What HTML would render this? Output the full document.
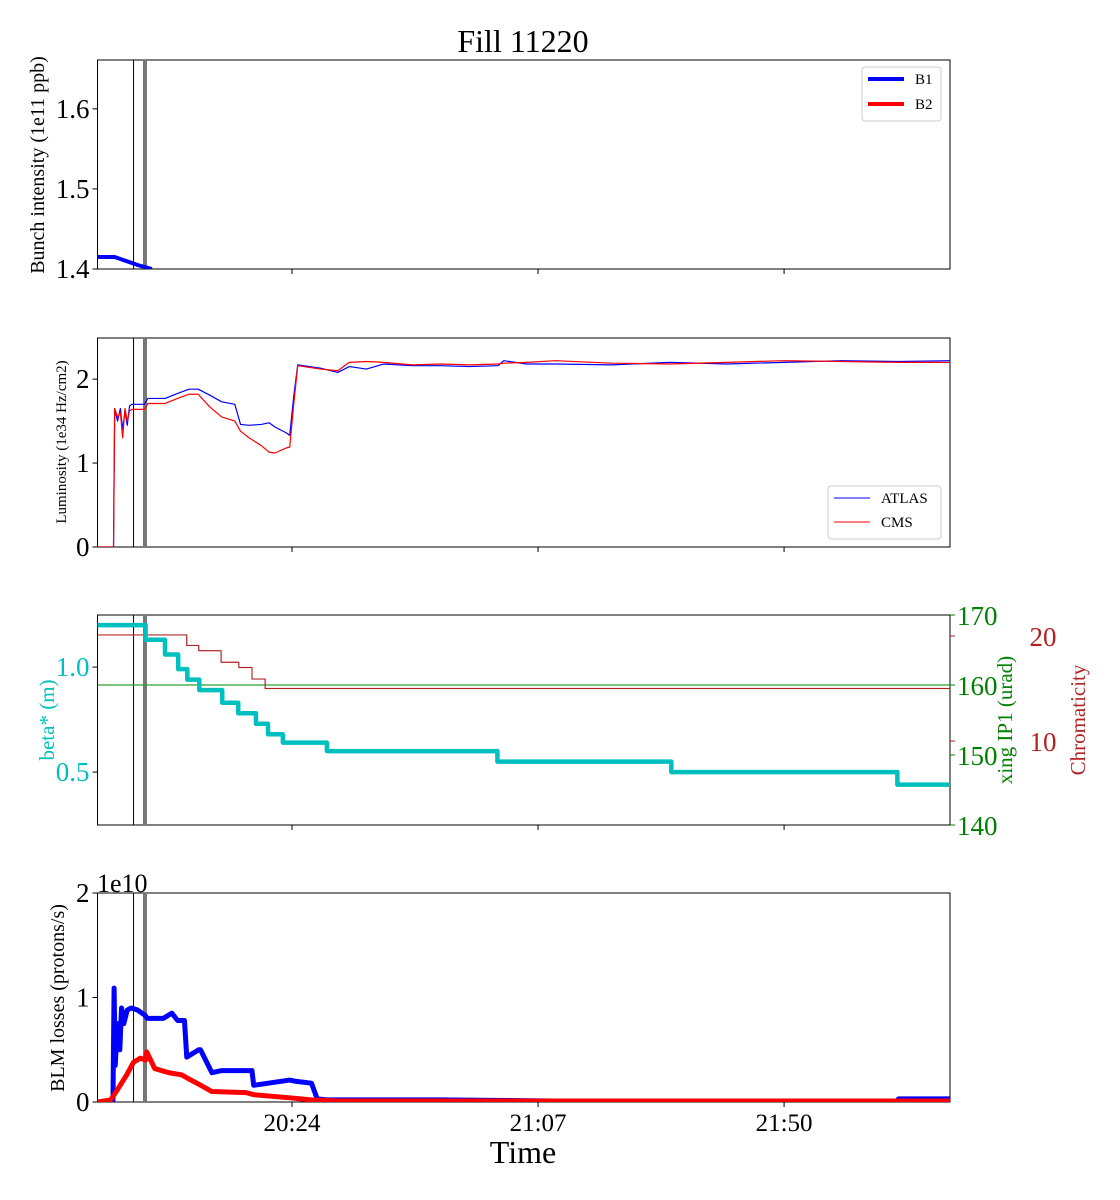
<!DOCTYPE html>
<html><head><meta charset="utf-8">
<style>
html,body{margin:0;padding:0;background:#fff;}
svg{display:block;font-family:"Liberation Serif","DejaVu Serif",serif;}
</style></head>
<body>
<svg id="c" width="1120" height="1200" viewBox="0 0 1120 1200" xmlns="http://www.w3.org/2000/svg"></svg>
<script>
// time in minutes since 19:50
const timeTicks=[34,77,120];
const timeTickLabels=["20:24","21:07","21:50"];
const markerTimes=[6.3,8.3];
// Panel 1: bunch intensity
const intT=[0,3,5,7,9.5];
const intB1=[1.415,1.415,1.41,1.405,1.40];
const intTicks=[1.4,1.5,1.6];
// Panel 2: luminosity
const lumT=[0,2.8,3.0,3.5,4.0,4.4,4.8,5.2,5.6,6.0,8.2,8.8,11.8,14,16,17.6,19.6,21.7,24,25,26.5,28.6,30,31,33,33.6,34.3,35,36,39,42,44,47,50,55,60,65,70,71,75,80,90,100,110,120,130,140,149];
const lumAtlas=[0,0,1.65,1.50,1.65,1.40,1.62,1.45,1.68,1.70,1.70,1.77,1.77,1.83,1.88,1.88,1.81,1.73,1.70,1.46,1.45,1.46,1.48,1.43,1.36,1.33,1.80,2.17,2.16,2.13,2.08,2.15,2.12,2.18,2.16,2.16,2.15,2.16,2.22,2.18,2.18,2.17,2.20,2.18,2.20,2.22,2.21,2.22];
const lumCms=[0,0,1.65,1.55,1.60,1.30,1.65,1.50,1.62,1.64,1.64,1.71,1.71,1.77,1.82,1.82,1.67,1.55,1.50,1.38,1.30,1.21,1.13,1.12,1.18,1.19,1.70,2.16,2.15,2.12,2.10,2.20,2.21,2.20,2.17,2.18,2.17,2.18,2.19,2.20,2.22,2.19,2.18,2.20,2.22,2.21,2.20,2.20];
const lumTicks=[0,1,2];
// Panel 3: beta*, crossing, chromaticity
const betaT=[0,8.4,11.8,14.1,15.7,17.8,21.8,24.6,27.7,29.8,32.4,40.1,69.9,100.3,139.8,149];
const beta=[1.20,1.13,1.06,0.99,0.94,0.89,0.83,0.78,0.73,0.68,0.64,0.60,0.55,0.50,0.44,0.44];
const xingT=[0,149];
const xing=[160,160];
const chromT=[0,15.6,17.7,21.6,24.7,27.0,29.3,149];
const chroma=[20.1,19.1,18.6,17.5,17.0,15.9,15.0,15.0];
const betaTicks=[0.5,1.0];
const xingTicks=[140,150,160,170];
const chromTicks=[10,20];
// Panel 4: BLM losses (units of 1e10)
const blmT=[0,2.7,2.9,3.1,3.5,3.9,4.2,4.6,5.2,5.9,7,8.3,8.7,11.5,13.0,14.0,14.1,15.2,15.6,17.7,18.0,20.0,21.6,27.0,27.3,33.6,34.4,37.4,38.4,40,60,80,100,120,139.8,140,149];
const blmB1=[0,0,1.09,0.35,0.75,0.50,0.90,0.75,0.88,0.90,0.88,0.83,0.80,0.80,0.85,0.78,0.78,0.78,0.43,0.50,0.50,0.28,0.30,0.30,0.16,0.21,0.20,0.18,0.03,0.02,0.02,0.01,0.01,0.01,0.01,0.03,0.03];
const blmT2=[0,2.3,3.5,5.0,6.3,7.5,8.4,8.6,10,12.5,14.7,16.0,17.7,20,26,27.3,33.6,37.4,42,60,100,149];
const blmB2=[0,0.02,0.12,0.25,0.38,0.42,0.40,0.48,0.32,0.28,0.26,0.22,0.17,0.10,0.09,0.07,0.04,0.02,0.01,0.01,0.01,0.01];
const blmTicks=[0,1,2];

const svg=document.getElementById('c');
const NS='http://www.w3.org/2000/svg';
function el(tag,attrs,parent){const e=document.createElementNS(NS,tag);for(const k in attrs)e.setAttribute(k,attrs[k]);(parent||svg).appendChild(e);return e;}
const X0=97.5,X1=950,TMAX=149;
function xs(t){return X0+(X1-X0)*t/TMAX;}
function ys(v,lo,hi,top,bot){return bot-(v-lo)/(hi-lo)*(bot-top);}
function poly(ts,vs,lo,hi,top,bot,color,w,name,step){
  let d='';
  for(let i=0;i<ts.length;i++){
    const x=xs(ts[i]),y=ys(vs[i],lo,hi,top,bot);
    if(i===0)d+='M'+x+' '+y;
    else if(step){d+=' L'+x+' '+ys(vs[i-1],lo,hi,top,bot)+' L'+x+' '+y;}
    else d+=' L'+x+' '+y;
  }
  const p=el('path',{d:d,fill:'none',stroke:color,'stroke-width':w,'stroke-linejoin':'round','clip-path':'url(#clip'+top+')'});
  
  
  return p;
}
function text(x,y,s,size,color,anchor,name,rot){
  const t=el('text',{x:x,y:y,'font-size':size,fill:color||'#000','text-anchor':anchor||'middle'});
  if(rot)t.setAttribute('transform','rotate(-90 '+x+' '+y+')');
  t.textContent=s;
  
  
  return t;
}
const defs=el('defs',{});
function panel(top,bot,name,showTimeLabels){
  const cp=el('clipPath',{id:'clip'+top},defs);
  el('rect',{x:X0,y:top,width:X1-X0,height:bot-top},cp);
  const g=el('rect',{x:X0,y:top,width:X1-X0,height:bot-top,fill:'none',stroke:'#000','stroke-width':1});
  
  
  for(let i=0;i<timeTicks.length;i++){
    const x=xs(timeTicks[i]);
    el('line',{x1:x,x2:x,y1:bot,y2:bot+5,stroke:'#000'});
    if(showTimeLabels)text(x,bot+29,timeTickLabels[i],25,'#000','middle','time-tick-label');
  }
  el('line',{x1:xs(markerTimes[0]),x2:xs(markerTimes[0]),y1:top,y2:bot,stroke:'#000','stroke-width':1});
  el('line',{x1:xs(markerTimes[1]),x2:xs(markerTimes[1]),y1:top,y2:bot,stroke:'#777','stroke-width':4});
}
function ytick(v,lo,hi,top,bot,label,color,side,size){
  const y=ys(v,lo,hi,top,bot);
  if(side==='left'){el('line',{x1:X0-5,x2:X0,y1:y,y2:y,stroke:'#000'});text(X0-8,y+9,label,size||27,color,'end','y-tick-label');}
  else{el('line',{x1:X1,x2:X1+5,y1:y,y2:y,stroke:color});text(X1+7,y+10,label,size||27,color,'start','y2-tick-label');}
}
text(523,52,'Fill 11220',32,'#000','middle','chart-title');

// Panel 1
let T=60,B=269,LO=1.4,HI=1.661;
panel(T,B,'intensity-panel',false);
intTicks.forEach(v=>ytick(v,LO,HI,T,B,v.toFixed(1),'#000','left'));
poly(intT,intB1,LO,HI,T,B,'#0000ff',4,'b1-intensity-line');
text(44,165,'Bunch intensity (1e11 ppb)',20,'#000','middle','y-axis-title-intensity',true);
let lg=el('rect',{x:862,y:67,width:79,height:54,fill:'#fff',stroke:'#ccc',rx:3});

el('line',{x1:868,x2:904,y1:79,y2:79,stroke:'#0000ff','stroke-width':4});
text(915,84,'B1',15,'#000','start','legend-b1');
el('line',{x1:868,x2:904,y1:104,y2:104,stroke:'#ff0000','stroke-width':4});
text(915,109,'B2',15,'#000','start','legend-b2');

// Panel 2
T=338;B=547;LO=0;HI=2.49;
panel(T,B,'luminosity-panel',false);
lumTicks.forEach(v=>ytick(v,LO,HI,T,B,String(v),'#000','left'));
poly(lumT,lumAtlas,LO,HI,T,B,'#0000ff',1.2,'atlas-line');
poly(lumT,lumCms,LO,HI,T,B,'#ff0000',1.2,'cms-line');
text(66,442,'Luminosity (1e34 Hz/cm2)',15,'#000','middle','y-axis-title-luminosity',true);
lg=el('rect',{x:828,y:486,width:113,height:53,fill:'#fff',stroke:'#ccc',rx:3});

el('line',{x1:834,x2:870,y1:498,y2:498,stroke:'#0000ff','stroke-width':1});
text(881,503,'ATLAS',15,'#000','start','legend-atlas');
el('line',{x1:834,x2:870,y1:522,y2:522,stroke:'#ff0000','stroke-width':1});
text(881,527,'CMS',15,'#000','start','legend-cms');

// Panel 3
T=615;B=825;
panel(T,B,'optics-panel',false);
betaTicks.forEach(v=>ytick(v,0.248,1.248,T,B,v.toFixed(1),'#00bfbf','left'));
xingTicks.forEach(v=>ytick(v,140,170,T,B,String(v),'#008000','right'));
chromTicks.forEach(v=>{const y=ys(v,2,22,T,B);el('line',{x1:X1,x2:X1+5,y1:y,y2:y,stroke:'#b22222'});text(1043,y+10,String(v),27,'#b22222','middle','chroma-tick-label');});
poly(xingT,xing,140,170,T,B,'#2ca02c',1.2,'xing-line');
poly(chromT,chroma,2,22,T,B,'#d07070',1.2,'chromaticity-b2-line',true);
poly(chromT,chroma,2,22,T,B,'#b22222',1,'chromaticity-line',true);
poly(betaT,beta,0.248,1.248,T,B,'#00bfbf',4.5,'beta-line',true);
text(54,720,'beta* (m)',21,'#00bfbf','middle','y-axis-title-beta',true);
text(1012,720,'xing IP1 (urad)',21,'#008000','middle','y-axis-title-xing',true);
text(1085,720,'Chromaticity',21,'#b22222','middle','y-axis-title-chromaticity',true);

// Panel 4
T=893;B=1102;LO=0;HI=2;
panel(T,B,'losses-panel',true);
blmTicks.forEach(v=>ytick(v,LO,HI,T,B,String(v),'#000','left'));
text(97,892,'1e10',26,'#000','start','offset-label');
poly(blmT,blmB1,LO,HI,T,B,'#0000ff',5,'blm-b1-line');
poly(blmT2,blmB2,LO,HI,T,B,'#ff0000',5,'blm-b2-line');
text(64,998,'BLM losses (protons/s)',20,'#000','middle','y-axis-title-losses',true);
text(523,1163,'Time',32,'#000','middle','x-axis-title');
</script>
</body></html>
